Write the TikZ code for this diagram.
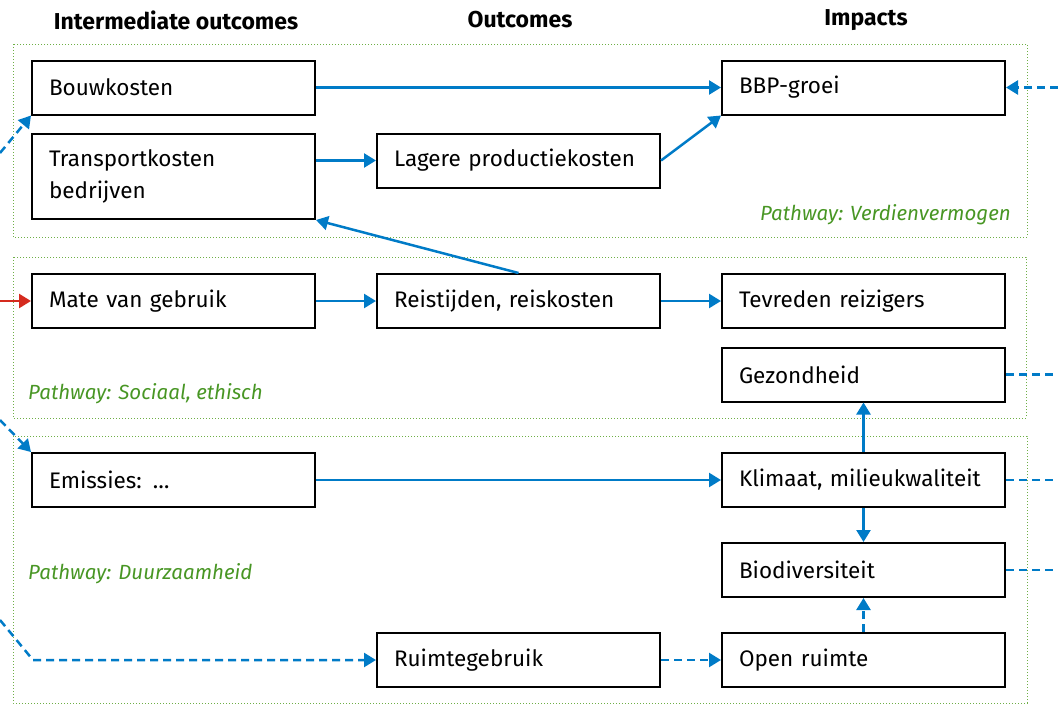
\documentclass[tikz,border=0pt]{standalone}
\usepackage{fontspec}
\setmainfont{Fira Sans}
\usetikzlibrary{arrows.meta}
\definecolor{flowblue}{RGB}{0,123,199}
\definecolor{flowred}{RGB}{213,43,30}
\definecolor{pathgreen}{RGB}{72,150,36}
\definecolor{framegreen}{RGB}{110,175,70}

\begin{document}
\begin{tikzpicture}[x = 1pt, y = -1pt,
                    >={Triangle[length = 12pt, width = 14pt]},
                    box/.style = {draw, line width = 2pt, text width = 249pt, inner xsep = 17pt,
                                  minimum height = 54pt, align = left,
                                  font = \fontsize{22.5}{32}\selectfont},
                    flow/.style = {->, flowblue, line width = 2.5pt},
                    dflow/.style = {flow, dash pattern = on 8pt off 5pt},
                    frame/.style = {framegreen, line width = 1pt, dotted},
                    pathway/.style = {pathgreen, inner sep = 0pt, font = \fontsize{20.5}{24}\selectfont\itshape},
                    header/.style = {inner sep = 0pt, font = \fontsize{23}{26}\selectfont\bfseries}]
    \useasboundingbox (0,0) rectangle (1058,704);

    % Draw the pathway frames:
    \draw [frame] (13,44) rectangle (1027,237);
    \draw [frame] (13,257) rectangle (1026,418);
    \draw [frame] (13,436) rectangle (1027,703);

    % Draw the column headers:
    \node [header] (hInter) at (176,20) {Intermediate outcomes};
    \node [header] (hOut) at (520,20) {Outcomes};
    \node [header] (hImp) at (866,20) {Impacts};

    % Intermediate outcomes:
    \node [box] (bouw) at (173.5,87.5) {Bouwkosten};
    \node [box, minimum height = 85pt] (transport) at (173.5,176.5) {Transportkosten\\bedrijven};
    \node [box] (gebruik) at (173.5,301) {Mate van gebruik};
    \node [box] (emissies) at (173.5,480) {Emissies: …};

    % Outcomes:
    \node [box] (lagere) at (518.5,160.5) {Lagere productiekosten};
    \node [box] (reis) at (518.5,301) {Reistijden, reiskosten};
    \node [box] (ruimte) at (518.5,660) {Ruimtegebruik};

    % Impacts:
    \node [box] (bbp) at (863.5,87.5) {BBP-groei};
    \node [box] (tevreden) at (863.5,301) {Tevreden reizigers};
    \node [box] (gezond) at (863.5,374.5) {Gezondheid};
    \node [box] (klimaat) at (863.5,480) {Klimaat, milieukwaliteit};
    \node [box] (biodiv) at (863.5,570) {Biodiversiteit};
    \node [box] (open) at (863.5,660) {Open ruimte};

    % Pathway labels:
    \node [pathway, anchor = east] (pVerdien) at (1011,215) {Pathway: Verdienvermogen};
    \node [pathway, anchor = west] (pSociaal) at (28,394) {Pathway: Sociaal, ethisch};
    \node [pathway, anchor = west] (pDuurzaam) at (28,574) {Pathway: Duurzaamheid};

    % Links inside the diagram:
    \draw [flow] (bouw) -- (bbp);
    \draw [flow] (transport.east |- lagere.west) -- (lagere.west);
    \draw [flow] (lagere.east) -- (bbp.south west);
    \draw [flow] (reis.north) -- (transport.south east);
    \draw [flow] (gebruik) -- (reis);
    \draw [flow] (reis) -- (tevreden);
    \draw [flow] (emissies) -- (klimaat);
    \draw [flow] (klimaat) -- (gezond);
    \draw [flow] (klimaat) -- (biodiv);
    \draw [dflow] (ruimte) -- (open);
    \draw [dflow] (open) -- (biodiv);

    % Links from and to the edges:
    \coordinate (inBouw) at (0,153);
    \coordinate (inEmissies) at (0,420);
    \coordinate (inRuimte) at (0,620);
    \coordinate (knik) at (33,660);
    \coordinate (inGebruik) at (0,301);
    \coordinate (inBbp) at (1058,87.5);
    \draw [dflow] (inBouw) -- (bouw.south west);
    \draw [dflow] (inEmissies) -- (emissies.north west);
    \draw [dflow] (inRuimte) -- (knik) -- (ruimte);
    \draw [->, flowred, line width = 2.5pt] (inGebruik) -- (gebruik);
    \draw [dflow] (inBbp) -- (bbp);
    \foreach \impact in {gezond, klimaat, biodiv}
        \draw [dflow, -] (\impact.east) -- (1058,0 |- \impact.east);
\end{tikzpicture}
\end{document}
